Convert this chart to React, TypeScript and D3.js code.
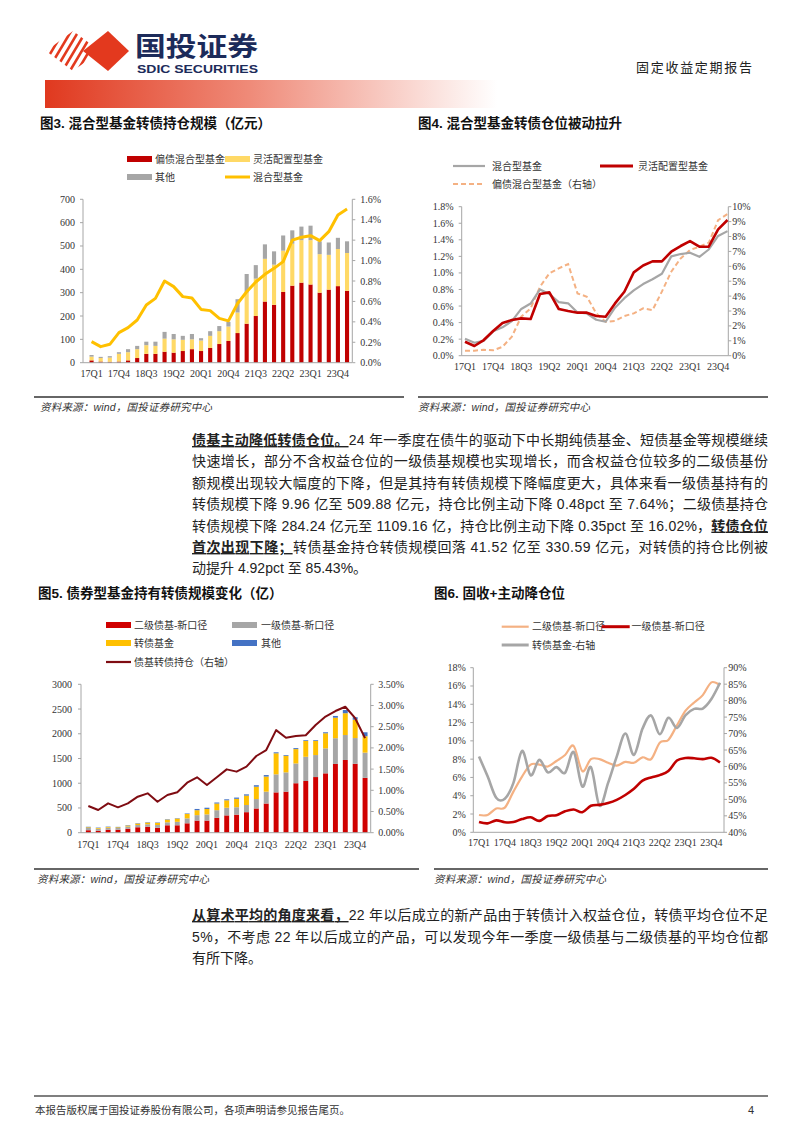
import React from "react";
import * as d3 from "d3";

// categories
const quarters = [
  "17Q1", "17Q2", "17Q3", "17Q4", "18Q1", "18Q2", "18Q3", "18Q4",
  "19Q1", "19Q2", "19Q3", "19Q4", "20Q1", "20Q2", "20Q3", "20Q4",
  "21Q1", "21Q2", "21Q3", "21Q4", "22Q1", "22Q2", "22Q3", "22Q4",
  "23Q1", "23Q2", "23Q3", "23Q4", "24Q1",
];
const xTickQuarters = ["17Q1", "17Q4", "18Q3", "19Q2", "20Q1", "20Q4", "21Q3", "22Q2", "23Q1", "23Q4"];

// 图3 (亿元 / 右轴 %)
const fig3BondBiased = [10, 5, 4, 5, 10, 20, 38, 38, 47, 43, 50, 58, 50, 63, 80, 93, 127, 167, 200, 262, 248, 303, 330, 343, 335, 300, 313, 328, 308];
const fig3Flexible = [16, 15, 18, 33, 35, 38, 37, 34, 56, 57, 48, 42, 45, 52, 55, 62, 88, 133, 160, 183, 172, 177, 180, 182, 190, 165, 149, 159, 162];
const fig3Other = [7, 5, 6, 7, 13, 14, 15, 18, 29, 23, 17, 23, 10, 20, 22, 20, 57, 80, 58, 62, 57, 65, 57, 58, 62, 55, 53, 48, 50];
const mixedFundRatio = [0.206, 0.157, 0.18, 0.294, 0.343, 0.418, 0.565, 0.63, 0.8, 0.745, 0.647, 0.633, 0.522, 0.51, 0.434, 0.41, 0.58, 0.695, 0.79, 0.865, 0.924, 0.99, 1.2, 1.228, 1.244, 1.195, 1.283, 1.447, 1.505];
const fig3LeftTicks = [0, 100, 200, 300, 400, 500, 600, 700];
const fig3RightTicks = [0, 0.2, 0.4, 0.6, 0.8, 1.0, 1.2, 1.4, 1.6];

// 图4 (%)
const fig4FlexibleRatio = [0.169, 0.117, 0.189, 0.298, 0.395, 0.431, 0.451, 0.443, 0.745, 0.765, 0.564, 0.54, 0.52, 0.52, 0.479, 0.471, 0.632, 0.773, 1.007, 1.09, 1.14, 1.14, 1.256, 1.325, 1.385, 1.317, 1.317, 1.526, 1.639];
const fig4BondBiasedRatio = [0.34, 0.34, 0.4, 0.36, 0.6, 1.28, 2.62, 3.18, 4.63, 5.53, 5.86, 6.15, 4.18, 3.96, 2.84, 2.28, 2.33, 2.66, 2.84, 3.18, 3.06, 4.3, 5.64, 6.53, 7.09, 7.32, 7.58, 9.1, 9.51];
const fig4LeftTicks = [0, 0.2, 0.4, 0.6, 0.8, 1.0, 1.2, 1.4, 1.6, 1.8];
const fig4RightTicks = [0, 1, 2, 3, 4, 5, 6, 7, 8, 9, 10];

// 图5 (亿 / 右轴 %)
const fig5Level2 = [50, 40, 60, 60, 80, 110, 120, 100, 150, 150, 190, 245, 245, 300, 350, 365, 415, 490, 590, 815, 830, 1000, 1045, 1125, 1200, 1390, 1470, 1393, 1109];
const fig5Level1 = [45, 40, 40, 35, 45, 45, 50, 55, 60, 70, 100, 110, 125, 155, 155, 150, 145, 190, 240, 365, 390, 400, 490, 445, 505, 520, 505, 520, 510];
const fig5CbFund = [15, 15, 15, 15, 20, 30, 35, 45, 55, 65, 90, 100, 110, 135, 150, 170, 190, 250, 305, 425, 335, 290, 320, 285, 305, 415, 440, 372, 331];
const fig5Other = [10, 8, 8, 8, 8, 8, 8, 8, 8, 8, 10, 25, 25, 20, 20, 25, 25, 30, 30, 20, 15, 20, 15, 15, 20, 35, 65, 50, 80];
const fig5BondFundRatio = [0.629, 0.535, 0.692, 0.598, 0.692, 0.849, 0.928, 0.731, 0.889, 0.952, 1.18, 1.306, 1.125, 1.306, 1.494, 1.44, 1.557, 1.809, 1.95, 2.42, 2.24, 2.28, 2.3, 2.54, 2.74, 2.87, 2.97, 2.7, 2.23];
const fig5LeftTicks = [0, 500, 1000, 1500, 2000, 2500, 3000];
const fig5RightTicks = [0, 0.5, 1.0, 1.5, 2.0, 2.5, 3.0, 3.5];

// 图6 (%)
const fig6Level2 = [1.89, 1.9, 2.6, 2.7, 4.45, 6.09, 7.4, 7.4, 7.2, 7.8, 8.45, 9.44, 6.7, 8.0, 8.0, 7.6, 7.3, 7.7, 7.6, 8.2, 8.0, 9.8, 10.1, 11.7, 13.3, 14.2, 15.0, 16.4, 16.1];
const fig6Level1 = [1.12, 0.98, 1.3, 1.1, 1.12, 1.45, 1.65, 1.25, 1.78, 1.87, 2.3, 2.5, 2.2, 2.9, 3.0, 3.2, 3.55, 4.08, 4.75, 5.65, 6.0, 6.25, 6.7, 7.85, 8.12, 8.1, 8.0, 8.15, 7.64];
const fig6CbFund = [63, 57, 50.5, 50.2, 55, 64.7, 57.3, 62, 58.2, 59.8, 58.1, 64.4, 53.9, 59.8, 48.1, 55, 63, 70, 63.5, 71.5, 75.5, 69.8, 74.8, 71.7, 75.6, 77.5, 77.6, 80.5, 85.43];
const fig6LeftTicks = [0, 2, 4, 6, 8, 10, 12, 14, 16, 18];
const fig6RightTicks = [40, 45, 50, 55, 60, 65, 70, 75, 80, 85, 90];

const SERIF = "'Liberation Serif', 'Times New Roman', 'Noto Sans CJK SC', serif";
const CJK = "'Liberation Sans', 'Noto Sans CJK SC', sans-serif";
const AXIS = "#a6a6a6";
const LABEL = "#333333";
const RED = "#c00000";

type Lin = d3.ScaleLinear<number, number>;

function YAxis({ scale, ticks, x, side, fmt, gap }: { scale: Lin; ticks: number[]; x: number; side: "left" | "right"; fmt: (v: number) => string; gap: number }) {
  const [r0, r1] = scale.range();
  const dir = side === "left" ? -1 : 1;
  return (
    <g>
      <line x1={x} x2={x} y1={r0} y2={r1} stroke={AXIS} strokeWidth={1} />
      {ticks.map((t) => (
        <g key={t}>
          <line x1={x} x2={x + dir * 3} y1={scale(t)} y2={scale(t)} stroke={AXIS} />
          <text x={x + dir * gap} y={scale(t)} dy="0.35em" textAnchor={side === "left" ? "end" : "start"} fontSize={10} fontFamily={SERIF} fill={LABEL}>
            {fmt(t)}
          </text>
        </g>
      ))}
    </g>
  );
}

function XLabels({ pos, y }: { pos: (q: string) => number; y: number }) {
  return (
    <g>
      {xTickQuarters.map((q) => (
        <text key={q} x={pos(q)} y={y} dy="0.35em" textAnchor="middle" fontSize={10} fontFamily={SERIF} fill={LABEL}>
          {q}
        </text>
      ))}
    </g>
  );
}

function Legend({ x, y, w, tx, kind, color, label, dash }: { x: number; y: number; w: number; tx: number; kind: "rect" | "line" | "thick"; color: string; label: string; dash?: string }) {
  return (
    <g>
      {kind === "rect" ? (
        <rect x={x} y={y - 3} width={w} height={6} fill={color} />
      ) : (
        <line x1={x} x2={x + w} y1={y} y2={y} stroke={color} strokeWidth={kind === "thick" ? 3 : 2.2} strokeDasharray={dash} />
      )}
      <text x={tx} y={y} dy="0.35em" fontSize={10} fontFamily={SERIF} fill={LABEL}>
        {label}
      </text>
    </g>
  );
}

function Fig3() {
  const x = d3.scaleBand<string>().domain(quarters).range([87, 351.6]).paddingInner(0.55).paddingOuter(0.275);
  const y = d3.scaleLinear().domain([0, 700]).range([362.7, 199.3]);
  const yr = d3.scaleLinear().domain([0, 1.6]).range([362.7, 199.3]);
  const rows = quarters.map((q, i) => ({ q, a: fig3BondBiased[i], b: fig3Flexible[i], c: fig3Other[i] }));
  const stack = d3.stack<any>().keys(["a", "b", "c"])(rows);
  const colors = [RED, "#ffd966", "#a6a6a6"];
  const cx = (q: string) => (x(q) as number) + x.bandwidth() / 2;
  const line = d3.line<number>().x((_, i) => cx(quarters[i])).y((v) => yr(v));
  return (
    <g>
      <Legend x={127} y={159} w={25} tx={155} kind="rect" color={RED} label="偏债混合型基金" />
      <Legend x={225} y={159} w={25} tx={253} kind="rect" color="#ffd966" label="灵活配置型基金" />
      <Legend x={127} y={177} w={25} tx={155} kind="rect" color="#a6a6a6" label="其他" />
      <Legend x={225} y={177} w={25} tx={253} kind="thick" color="#ffc000" label="混合型基金" />
      {stack.map((s, k) =>
        s.map((d, i) => (
          <rect key={k + "-" + i} x={x(quarters[i])} width={x.bandwidth()} y={y(d[1])} height={y(d[0]) - y(d[1])} fill={colors[k]} />
        ))
      )}
      <line x1={83} x2={352} y1={362.7} y2={362.7} stroke={AXIS} />
      <YAxis scale={y} ticks={fig3LeftTicks} x={83} side="left" gap={8} fmt={(v) => String(v)} />
      <YAxis scale={yr} ticks={fig3RightTicks} x={352.3} side="right" gap={8} fmt={(v) => v.toFixed(1) + "%"} />
      <path d={line(mixedFundRatio) || ""} fill="none" stroke="#ffc000" strokeWidth={3} strokeLinejoin="round" />
      <XLabels pos={cx} y={373} />
    </g>
  );
}

function Fig4() {
  const x = d3.scalePoint<string>().domain(quarters).range([465, 727.5]);
  const y = d3.scaleLinear().domain([0, 1.8]).range([355.7, 206.7]);
  const yr = d3.scaleLinear().domain([0, 10]).range([355.7, 206.7]);
  const px = (q: string) => x(q) as number;
  const left = d3.line<number>().x((_, i) => px(quarters[i])).y((v) => y(v));
  const right = d3.line<number>().x((_, i) => px(quarters[i])).y((v) => yr(v));
  return (
    <g>
      <Legend x={453} y={166} w={32} tx={492} kind="line" color="#a6a6a6" label="混合型基金" />
      <Legend x={600} y={166} w={33} tx={638} kind="thick" color={RED} label="灵活配置型基金" />
      <Legend x={453} y={184} w={32} tx={492} kind="line" color="#f4b183" dash="5,3" label="偏债混合型基金（右轴）" />
      <line x1={461.7} x2={728.3} y1={355.7} y2={355.7} stroke={AXIS} />
      <YAxis scale={y} ticks={fig4LeftTicks} x={461.7} side="left" gap={8} fmt={(v) => v.toFixed(1) + "%"} />
      <YAxis scale={yr} ticks={fig4RightTicks} x={728.3} side="right" gap={4} fmt={(v) => v + "%"} />
      <path d={right(fig4BondBiasedRatio) || ""} fill="none" stroke="#f4b183" strokeWidth={2} strokeDasharray="5,3" />
      <path d={left(mixedFundRatio) || ""} fill="none" stroke="#a6a6a6" strokeWidth={2.2} strokeLinejoin="round" />
      <path d={left(fig4FlexibleRatio) || ""} fill="none" stroke={RED} strokeWidth={2.6} strokeLinejoin="round" />
      <XLabels pos={px} y={366.7} />
    </g>
  );
}

function Fig5() {
  const x = d3.scaleBand<string>().domain(quarters).range([83.4, 370]).paddingInner(0.5).paddingOuter(0.25);
  const y = d3.scaleLinear().domain([0, 3000]).range([832.7, 684.3]);
  const yr = d3.scaleLinear().domain([0, 3.5]).range([832.7, 684.3]);
  const rows = quarters.map((q, i) => ({ q, a: fig5Level2[i], b: fig5Level1[i], c: fig5CbFund[i], d: fig5Other[i] }));
  const stack = d3.stack<any>().keys(["a", "b", "c", "d"])(rows);
  const colors = ["#d00000", "#a6a6a6", "#ffc000", "#4472c4"];
  const cx = (q: string) => (x(q) as number) + x.bandwidth() / 2;
  const line = d3.line<number>().x((_, i) => cx(quarters[i])).y((v) => yr(v));
  return (
    <g>
      <Legend x={106} y={625} w={25} tx={134} kind="rect" color="#d00000" label="二级债基-新口径" />
      <Legend x={232} y={625} w={25} tx={261} kind="rect" color="#a6a6a6" label="一级债基-新口径" />
      <Legend x={106} y={643} w={25} tx={134} kind="rect" color="#ffc000" label="转债基金" />
      <Legend x={232} y={643} w={25} tx={261} kind="rect" color="#4472c4" label="其他" />
      <Legend x={106} y={662} w={25} tx={134} kind="line" color="#7f0c12" label="债基转债持仓（右轴）" />
      {stack.map((s, k) =>
        s.map((d, i) => (
          <rect key={k + "-" + i} x={x(quarters[i])} width={x.bandwidth()} y={y(d[1])} height={y(d[0]) - y(d[1])} fill={colors[k]} />
        ))
      )}
      <line x1={81} x2={370.7} y1={832.7} y2={832.7} stroke={AXIS} />
      <YAxis scale={y} ticks={fig5LeftTicks} x={81} side="left" gap={9} fmt={(v) => String(v)} />
      <YAxis scale={yr} ticks={fig5RightTicks} x={370.7} side="right" gap={7.5} fmt={(v) => v.toFixed(2) + "%"} />
      <path d={line(fig5BondFundRatio) || ""} fill="none" stroke="#7f0c12" strokeWidth={2} strokeLinejoin="round" />
      <XLabels pos={cx} y={844} />
    </g>
  );
}

function Fig6() {
  const x = d3.scalePoint<string>().domain(quarters).range([479, 720]);
  const y = d3.scaleLinear().domain([0, 18]).range([832.3, 667.7]);
  const yr = d3.scaleLinear().domain([40, 90]).range([832.3, 667.7]);
  const px = (q: string) => x(q) as number;
  // Excel-style smoothed lines
  const curve = d3.curveCardinal.tension(0);
  const left = d3.line<number>().x((_, i) => px(quarters[i])).y((v) => y(v)).curve(curve);
  const right = d3.line<number>().x((_, i) => px(quarters[i])).y((v) => yr(v)).curve(curve);
  return (
    <g>
      <Legend x={501.7} y={626.7} w={27} tx={532} kind="line" color="#f4b183" label="二级债基-新口径" />
      <Legend x={601.7} y={626.7} w={28} tx={631.5} kind="thick" color={RED} label="一级债基-新口径" />
      <Legend x={501.7} y={645} w={27} tx={532} kind="thick" color="#a6a6a6" label="转债基金-右轴" />
      <line x1={473.3} x2={724} y1={832.3} y2={832.3} stroke={AXIS} />
      <YAxis scale={y} ticks={fig6LeftTicks} x={473.3} side="left" gap={7.5} fmt={(v) => v + "%"} />
      <YAxis scale={yr} ticks={fig6RightTicks} x={724} side="right" gap={4.3} fmt={(v) => v + "%"} />
      <path d={left(fig6Level2) || ""} fill="none" stroke="#f4b183" strokeWidth={2.2} />
      <path d={right(fig6CbFund) || ""} fill="none" stroke="#a6a6a6" strokeWidth={2.6} />
      <path d={left(fig6Level1) || ""} fill="none" stroke={RED} strokeWidth={2.6} />
      <XLabels pos={px} y={842} />
    </g>
  );
}

const BU: React.CSSProperties = { fontWeight: 700, textDecoration: "underline" };

function Para({ lines, y0, lh }: { lines: React.ReactNode[][]; y0: number; lh: number }) {
  return (
    <g fontFamily={CJK} fontSize={14} fill="#222">
      {lines.map((parts, i) => (
        <text key={i} x={192} y={y0 + i * lh} {...(i < lines.length - 1 ? { textLength: 576, lengthAdjust: "spacing" } : {})}>
          {parts}
        </text>
      ))}
    </g>
  );
}

function Source({ x, y }: { x: number; y: number }) {
  return (
    <text x={x} y={y} fontSize={10.5} fontStyle="italic" fontFamily={CJK} fill="#333" textLength={172} lengthAdjust="spacing">
      资料来源：wind，国投证券研究中心
    </text>
  );
}

function Title({ x, y, label }: { x: number; y: number; label: string }) {
  return (
    <text x={x} y={y} fontSize={13.5} fontWeight={700} fontFamily={CJK} fill="#111">
      {label}
    </text>
  );
}

function Logo() {
  const stripes = d3.range(7).map((i) => 30 + i * 7.5);
  return (
    <g>
      <defs>
        <clipPath id="stripeClip">
          <polygon points="46,51 73,31 100,51 73,71" />
        </clipPath>
        <linearGradient id="bandGrad" x1="0" x2="1" y1="0" y2="0">
          <stop offset="0" stopColor="#e0391f" />
          <stop offset="0.45" stopColor="#ef8a78" />
          <stop offset="1" stopColor="#ffffff" />
        </linearGradient>
      </defs>
      <g clipPath="url(#stripeClip)">
        {stripes.map((s) => (
          <line key={s} x1={s} y1={75} x2={s + 28} y2={28} stroke="#e3391e" strokeWidth={2.6} />
        ))}
      </g>
      <polygon points="83,51 108,31 129,51 108,71" fill="#e3391e" />
      <text x={135} y={56} fontSize={26.5} fontWeight={700} fontFamily={CJK} fill="#1c2b5a" textLength={123} lengthAdjust="spacingAndGlyphs">
        国投证券
      </text>
      <text x={137} y={72.5} fontSize={11} fontWeight={700} fontFamily="'Liberation Sans Narrow', 'Liberation Sans', sans-serif" fill="#1c2b5a" textLength={121} lengthAdjust="spacingAndGlyphs">
        SDIC SECURITIES
      </text>
      <rect x={45} y={80} width={452} height={28} fill="url(#bandGrad)" />
      <text x={636} y={72} fontSize={13} fontFamily={CJK} fill="#222" textLength={116} lengthAdjust="spacing">
        固定收益定期报告
      </text>
    </g>
  );
}

export default function App() {
  const para1: React.ReactNode[][] = [
    [<tspan key="a" style={BU}>债基主动降低转债仓位。</tspan>, "24 年一季度在债牛的驱动下中长期纯债基金、短债基金等规模继续"],
    ["快速增长，部分不含权益仓位的一级债基规模也实现增长，而含权益仓位较多的二级债基份"],
    ["额规模出现较大幅度的下降，但是其持有转债规模下降幅度更大，具体来看一级债基持有的"],
    ["转债规模下降 9.96 亿至 509.88 亿元，持仓比例主动下降 0.48pct 至 7.64%；二级债基持仓"],
    ["转债规模下降 284.24 亿元至 1109.16 亿，持仓比例主动下降 0.35pct 至 16.02%，", <tspan key="b" style={BU}>转债仓位</tspan>],
    [<tspan key="c" style={BU}>首次出现下降；</tspan>, "转债基金持仓转债规模回落 41.52 亿至 330.59 亿元，对转债的持仓比例被"],
    ["动提升 4.92pct 至 85.43%。"],
  ];
  const para2: React.ReactNode[][] = [
    [<tspan key="a" style={BU}>从算术平均的角度来看，</tspan>, "22 年以后成立的新产品由于转债计入权益仓位，转债平均仓位不足"],
    ["5%，不考虑 22 年以后成立的产品，可以发现今年一季度一级债基与二级债基的平均仓位都"],
    ["有所下降。"],
  ];
  return (
    <div style={{ position: "absolute", left: 0, top: 0 }}>
      <svg width={802} height={1133} style={{ display: "block", background: "#fff" }}>
        <Logo />
        <Title x={40} y={128} label="图3. 混合型基金转债持仓规模（亿元）" />
        <Title x={418} y={128} label="图4. 混合型基金转债仓位被动拉升" />
        <Fig3 />
        <Fig4 />
        <line x1={34} x2={404} y1={397} y2={397} stroke="#333" strokeWidth={1.6} />
        <line x1={418} x2={768} y1={397} y2={397} stroke="#333" strokeWidth={1.6} />
        <Source x={40} y={411} />
        <Source x={418} y={411} />
        <Para lines={para1} y0={445} lh={21.4} />
        <Title x={38} y={598} label="图5. 债券型基金持有转债规模变化（亿）" />
        <Title x={434} y={598} label="图6. 固收+主动降仓位" />
        <Fig5 />
        <Fig6 />
        <line x1={34} x2={419} y1={869} y2={869} stroke="#333" strokeWidth={1.6} />
        <line x1={434} x2={768} y1={869} y2={869} stroke="#333" strokeWidth={1.6} />
        <Source x={37} y={883} />
        <Source x={434} y={883} />
        <Para lines={para2} y0={920} lh={21.5} />
        <line x1={34} x2={768} y1={1096} y2={1096} stroke="#555" strokeWidth={1.6} />
        <text x={35} y={1114} fontSize={10.5} fontFamily={CJK} fill="#333">
          本报告版权属于国投证券股份有限公司，各项声明请参见报告尾页。
        </text>
        <text x={748} y={1114} fontSize={11} fontFamily={CJK} fill="#333">4</text>
      </svg>
    </div>
  );
}
